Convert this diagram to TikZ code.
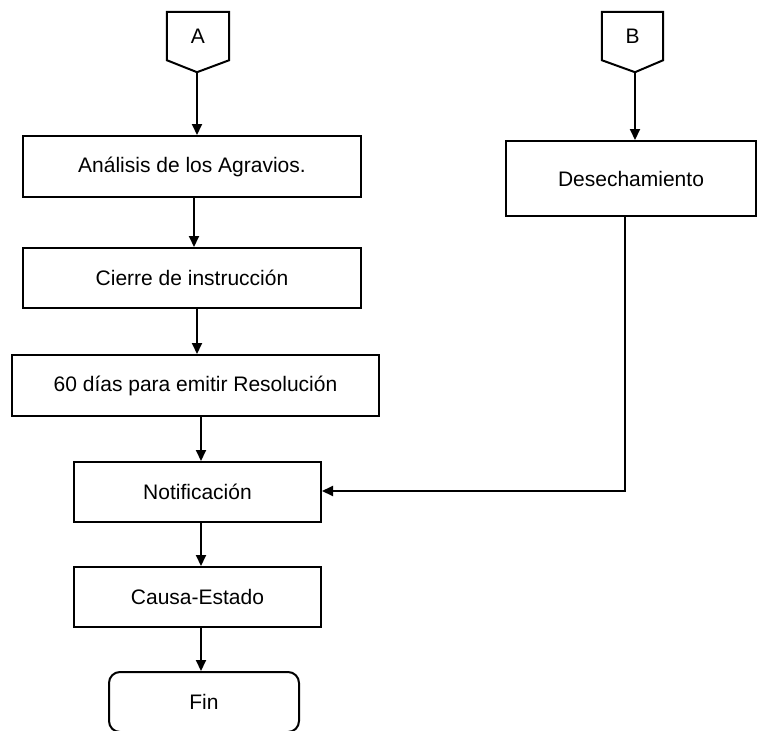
\documentclass[tikz,border=0pt]{standalone}
\usepackage{fontspec}
\setmainfont{Liberation Sans}
\usetikzlibrary{arrows.meta,calc}

\tikzset{
  every node/.style={font=\fontsize{21}{25}\selectfont, inner sep=0pt},
  procbox/.style={draw, rectangle, line width=2pt},
  endbox/.style={draw, rectangle, rounded corners=11pt, line width=2pt},
  pagelabel/.style={rectangle, minimum width=62pt, minimum height=48pt},
  pageshape/.style={draw, line width=2pt, line join=miter},
  flow/.style={line width=2pt, -{Triangle[length=11pt,width=10pt]}},
}

\begin{document}
\begin{tikzpicture}[x=1pt, y=-1pt]
  \useasboundingbox (0,0) rectangle (758,731);

  % off-page entry points
  \node[pagelabel] (A) at (198,36) {A};
  \draw[pageshape] (A.north west) -- (A.north east) -- (A.south east)
    -- ($(A.south)+(-1,12)$) coordinate (Atip) -- (A.south west) -- cycle;

  \node[pagelabel, minimum width=61pt] (B) at (632.5,36) {B};
  \draw[pageshape] (B.north west) -- (B.north east) -- (B.south east)
    -- ($(B.south)+(2.5,12)$) coordinate (Btip) -- (B.south west) -- cycle;

  % main column
  \node[procbox, minimum width=338pt, minimum height=61pt] (analisis) at (192,166.5) {Análisis de los Agravios.};
  \node[procbox, minimum width=338pt, minimum height=60pt] (cierre) at (192,278) {Cierre de instrucción};
  \node[procbox, minimum width=367pt, minimum height=61pt] (plazo) at (195.5,385.5) {60 días para emitir Resolución};
  \node[procbox, minimum width=247pt, minimum height=60pt] (notif) at (197.5,492) {Notificación};
  \node[procbox, minimum width=247pt, minimum height=60pt] (causa) at (197.5,597) {Causa-Estado};
  \node[endbox, minimum width=190pt, minimum height=60pt] (fin) at (204,702) {Fin};

  % right branch
  \node[procbox, minimum width=250pt, minimum height=75pt] (desech) at (631,178.5) {Desechamiento};

  % connectors
  \draw[flow] (Atip) -- (Atip |- analisis.north);
  \draw[flow] ([xshift=2pt]analisis.south) -- ([xshift=2pt]analisis.south |- cierre.north);
  \draw[flow] ([xshift=5pt]cierre.south) -- ([xshift=5pt]cierre.south |- plazo.north);
  \draw[flow] ([xshift=3.5pt]notif.north |- plazo.south) -- ([xshift=3.5pt]notif.north);
  \draw[flow] ([xshift=3.5pt]notif.south) -- ([xshift=3.5pt]notif.south |- causa.north);
  \draw[flow] ([xshift=3.5pt]causa.south) -- ([xshift=3.5pt]causa.south |- fin.north);

  \draw[flow] (Btip) -- (Btip |- desech.north);
  \draw[flow] ([xshift=-6pt]desech.south) |- ([yshift=1pt]notif.east);
\end{tikzpicture}
\end{document}
